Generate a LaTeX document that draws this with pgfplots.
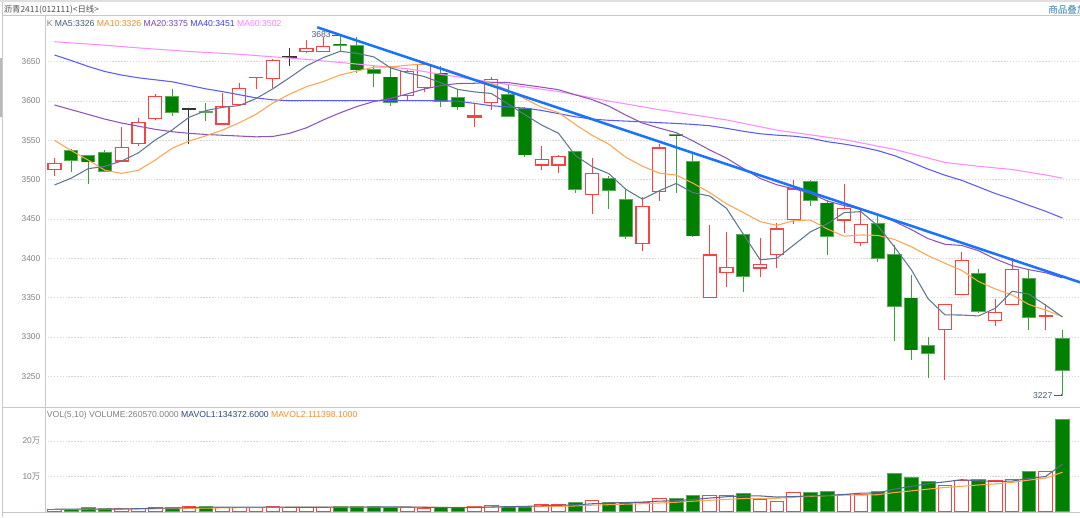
\documentclass[border=0pt]{standalone}
\usepackage{fontspec}
\setmainfont{Liberation Sans}
\newfontfamily\cjk{Noto Sans CJK SC}
\usepackage{pgfplots}
\usepackage{pgfplotstable}
\pgfplotsset{compat=1.18}
\usetikzlibrary{arrows.meta}

\definecolor{upred}{RGB}{255,64,64}
\definecolor{dngreen}{RGB}{0,128,0}
\definecolor{dnedge}{RGB}{90,170,90}
\definecolor{dnwick}{RGB}{60,160,60}
\definecolor{maA}{RGB}{95,120,145}
\definecolor{maB}{RGB}{255,165,80}
\definecolor{maC}{RGB}{140,85,185}
\definecolor{maD}{RGB}{90,90,255}
\definecolor{maE}{RGB}{255,140,255}
\definecolor{trendc}{RGB}{25,115,255}
\definecolor{gridc}{RGB}{215,215,215}
\definecolor{labc}{RGB}{128,128,128}
\definecolor{framec}{RGB}{200,200,200}
\definecolor{txA}{RGB}{60,90,120}
\definecolor{txB}{RGB}{240,140,40}
\definecolor{txC}{RGB}{120,64,180}
\definecolor{txD}{RGB}{60,60,255}
\definecolor{txE}{RGB}{255,128,255}
\definecolor{navy}{RGB}{40,70,120}
\definecolor{annc}{RGB}{76,92,112}
\definecolor{linkc}{RGB}{47,127,175}

\newcommand\tkf{\fontsize{6.3}{7.5}\selectfont}
\newcommand\lgf{\fontsize{6.5}{7.5}\selectfont}

% i open high low close volume
\pgfplotstableread{
i O H L C V
0 3512 3528 3505 3521 5700
1 3538 3539 3510 3524 4700
2 3531 3532 3495 3522 10400
3 3535 3538 3510 3510 7500
4 3523 3567 3523 3542 7500
5 3545 3579 3543 3573 9400
6 3577 3609 3576 3606 12300
7 3606 3615 3581 3585 10400
8 3590 3590 3546 3590 15100
9 3586 3598 3574 3585 13200
10 3570 3610 3570 3594 11300
11 3595 3623 3595 3617 11300
12 3629 3630 3615 3630 11300
13 3628 3653 3617 3652 15100
14 3656 3668 3644 3656 11300
15 3662 3677 3661 3668 11300
16 3662 3681 3662 3670 11300
17 3673 3683 3664 3670 13200
18 3671 3682 3636 3639 14200
19 3641 3645 3618 3634 14200
20 3631 3644 3594 3598 11300
21 3606 3639 3600 3638 11300
22 3616 3649 3612 3647 9400
23 3636 3645 3593 3599 11300
24 3605 3615 3589 3592 11300
25 3579 3597 3567 3582 13200
26 3597 3631 3589 3628 17900
27 3609 3620 3580 3580 15100
28 3591 3592 3529 3531 15100
29 3518 3543 3512 3526 19800
30 3518 3531 3508 3530 19800
31 3536 3537 3483 3487 24500
32 3480 3527 3457 3509 30200
33 3502 3505 3463 3486 26400
34 3475 3489 3425 3427 26400
35 3418 3478 3409 3467 26400
36 3484 3545 3473 3541 37700
37 3558 3558 3483 3555 35800
38 3524 3534 3427 3428 45300
39 3349 3442 3349 3405 45300
40 3381 3433 3364 3389 45300
41 3431 3431 3357 3376 50000
42 3387 3426 3376 3393 34900
43 3404 3445 3388 3438 29200
44 3449 3500 3444 3489 52800
45 3498 3499 3466 3473 53800
46 3471 3474 3404 3427 57500
47 3448 3494 3432 3464 48100
48 3419 3464 3416 3444 48100
49 3445 3455 3395 3399 55700
50 3405 3417 3295 3338 107500
51 3350 3379 3271 3283 97200
52 3290 3300 3248 3279 84900
53 3309 3342 3245 3342 74500
54 3353 3408 3353 3398 86800
55 3381 3387 3330 3332 91500
56 3320 3348 3314 3332 86800
57 3341 3401 3341 3387 91500
58 3375 3387 3309 3324 113200
59 3326 3342 3309 3327 113200
60 3299 3309 3227 3257 260570
}\ohlc

\pgfplotstableread{
i ma5 ma10 ma20 ma40
0 3493.3 3550 3595 3658.5
1 3502 3537 3589 3651.5
2 3514 3525 3583 3644
3 3517 3512 3577 3637.5
4 3523.8 3508 3572 3633
5 3534.2 3512 3568 3629.5
6 3550.6 3525 3564 3627
7 3563.2 3540 3561 3624.5
8 3579.2 3549 3559 3620
9 3587.8 3555.8 3557.5 3615.5
10 3592.0 3563.1 3556.5 3612
11 3594.2 3572.4 3555.5 3608
12 3603.2 3583.2 3554.5 3604
13 3615.6 3597.4 3555 3601.5
14 3629.8 3608.8 3559 3600.5
15 3644.6 3618.3 3566 3600.5
16 3655.2 3624.7 3576 3600.5
17 3663.2 3633.2 3585 3600.5
18 3660.6 3638.1 3593 3600.5
19 3656.2 3643.0 3599.4 3600.5
20 3642.2 3643.4 3603.3 3600.5
21 3635.8 3645.5 3609.0 3600.5
22 3631.2 3647.2 3615.2 3600.5
23 3623.2 3641.9 3619.7 3600.3
24 3614.8 3635.5 3622.2 3599.8
25 3611.6 3626.9 3622.6 3597
26 3609.6 3622.7 3623.7 3594
27 3596.2 3613.7 3623.5 3592.5
28 3582.6 3602.9 3620.5 3591
29 3569.4 3592.1 3617.6 3588
30 3559.0 3585.3 3614.4 3584
31 3530.8 3570.2 3607.9 3580
32 3516.6 3556.4 3601.8 3577
33 3507.6 3545.1 3593.5 3575.5
34 3487.8 3528.6 3582.1 3574.5
35 3475.2 3517.1 3572.0 3573.5
36 3486.0 3508.4 3565.6 3572.5
37 3495.2 3505.9 3559.8 3571.5
38 3483.6 3495.6 3549.3 3570.3
39 3479.2 3483.5 3537.8 3568.6
40 3463.6 3469.4 3527.4 3565.3
41 3430.6 3458.3 3514.3 3561.6
42 3398.2 3446.7 3501.6 3558.4
43 3400.2 3441.9 3493.5 3556.6
44 3417.0 3448.1 3488.4 3555.3
45 3433.8 3448.7 3482.9 3552.8
46 3444.0 3437.3 3472.9 3548.3
47 3458.2 3428.2 3467.1 3545.3
48 3459.4 3429.8 3462.7 3541.6
49 3441.4 3429.2 3456.4 3537.0
50 3414.4 3424.1 3446.8 3530.6
51 3385.6 3414.8 3436.6 3522.2
52 3348.6 3403.4 3425.1 3513.4
53 3328.2 3393.8 3417.9 3505.7
54 3328.0 3384.7 3416.4 3499.2
55 3326.8 3370.6 3409.7 3490.8
56 3336.6 3361.1 3399.2 3482.4
57 3358.2 3353.4 3390.8 3475.3
58 3354.6 3341.4 3385.6 3467.4
59 3340.4 3334.2 3381.7 3459.8
60 3325.4 3326.1 3375.1 3451.2
}\ma

\pgfplotstableread{
i ma60
0 3675.4
3 3671
5 3667.5
8 3663
11 3659.4
15 3653
19 3645
21 3641
23 3634
26 3624
28 3618
30 3612
33 3600
36 3589
40 3576
43 3563
47 3551
50 3538.5
53 3522
55 3517
57 3513
59 3506
60 3502
}\masixty

\pgfplotstableread{
i mv5 mv10
0 6500 6000
1 6500 6200
2 6800 6500
3 7000 6800
4 7160 7000
5 7900 7300
6 9420 7800
7 9420 8300
8 10940 9000
9 12080 9620
10 12460 10180
11 12260 10840
12 12440 10930
13 12440 11690
14 12060 12070
15 12060 12260
16 12060 12160
17 12440 12440
18 12260 12350
19 12840 12450
20 12840 12450
21 12840 12450
22 12080 12260
23 11500 11880
24 10920 11880
25 11300 12070
26 12620 12730
27 13760 12920
28 14520 13010
29 16220 13570
30 17540 14420
31 18860 15740
32 21880 17820
33 24140 19330
34 25460 20840
35 26780 22160
36 29420 24140
37 30540 26210
38 34320 29230
39 38100 31780
40 41880 34330
41 44340 36880
42 44160 37350
43 40940 37630
44 42440 40270
45 44140 43010
46 45640 44990
47 48280 46220
48 52060 46500
49 52640 47540
50 63380 53760
51 71320 58480
52 78680 63480
53 83960 68010
54 90180 71410
55 86980 75180
56 84900 78110
57 86220 82450
58 93960 88960
59 99240 94710
60 134373 111398
}\mavol

\pgfplotsset{
  cdl/.style={forget plot, draw=none, mark=none,
    error bars/y dir=plus, error bars/y explicit, error bars/error mark=none},
  up/.style={restrict expr to domain={\thisrow{C}-\thisrow{O}}{0.5:1000}},
  dn/.style={restrict expr to domain={\thisrow{C}-\thisrow{O}}{-1000:-0.5}},
  flat/.style={restrict expr to domain={\thisrow{C}-\thisrow{O}}{-0.5:0.5}},
  panel/.style={anchor=north west, width=776.25pt, scale only axis,
    xmin=-0.5655, xmax=61.04, axis line style={draw=none}, xtick=\empty,
    major tick length=0pt, ymajorgrids,
    major grid style={gridc, line width=0.6pt, dash pattern=on 1pt off 1.2pt},
    yticklabel style={font=\tkf, text=labc}, clip=true},
}

\begin{document}
\begin{tikzpicture}
\clip (0,0) rectangle (810pt,-387.75pt);
\begin{scope}[x=0.75pt,y=-0.75pt]
  \fill[gray!25] (0,0) rectangle (1080,2.5);
  \draw[framec] (2.5,15) -- (1080,15);
  \draw[framec] (2.5,2.5) -- (2.5,517);
  \fill[gray!55] (0,58) rectangle (2.2,117);
  \draw[framec] (45,15) -- (45,512);
  \draw[framec, line width=1pt] (2.5,407.5) -- (1080,407.5);
  \draw[framec] (2.5,512) -- (1080,512);
  \node[anchor=west, inner sep=0, text=black!70, font=\cjk\fontsize{6.3}{7}\selectfont] at (3.5,9.5) {沥青2411(012111)<日线>};
  \node[anchor=west, inner sep=0, text=linkc, font=\cjk\fontsize{7.2}{8}\selectfont] at (1048,9.5) {商品叠加};
  \node[anchor=west, inner sep=0, font=\lgf] at (46.5,23.5) {\textcolor{labc}{K} \textcolor{txA}{MA5:3326} \textcolor{txB}{MA10:3326} \textcolor{txC}{MA20:3375} \textcolor{txD}{MA40:3451} \textcolor{txE}{MA60:3502}};
  \node[anchor=west, inner sep=0, font=\lgf] at (46.5,415.5) {\textcolor{labc}{VOL(5,10) VOLUME:260570.0000} \textcolor{navy}{MAVOL1:134372.6000} \textcolor{txB}{MAVOL2:111398.1000}};
\end{scope}

\begin{axis}[panel, at={(33.75pt,-11.25pt)}, height=294.375pt,
  ymin=3210.45, ymax=3709.36, ytick={3250,3300,...,3650},
  yticklabels={3250,3300,3350,3400,3450,3500,3550,3600,3650}]
  % up candles: hollow red
  \addplot [up, cdl, error bars/error bar style={draw=upred, line width=0.8pt}]
    table [x=i, y=L, y error plus expr={\thisrow{H}-\thisrow{L}}] {\ohlc};
  \addplot [up, cdl, error bars/error bar style={draw=upred, line width=10.7pt}]
    table [x=i, y=O, y error plus expr={max(\thisrow{C}-\thisrow{O},1.8)}] {\ohlc};
  \addplot [up, cdl, error bars/error bar style={draw=white, line width=8.9pt}]
    table [x=i, y expr={\thisrow{O}+1.5}, y error plus expr={max(\thisrow{C}-\thisrow{O}-3,0)}] {\ohlc};
  % down candles: filled green
  \addplot [dn, cdl, error bars/error bar style={draw=dnwick, line width=0.8pt}]
    table [x=i, y=L, y error plus expr={\thisrow{H}-\thisrow{L}}] {\ohlc};
  \addplot [dn, cdl, error bars/error bar style={draw=dnedge, line width=10.7pt}]
    table [x=i, y=C, y error plus expr={max(\thisrow{O}-\thisrow{C},1.8)}] {\ohlc};
  \addplot [dn, cdl, error bars/error bar style={draw=dngreen, line width=9.2pt}]
    table [x=i, y expr={\thisrow{C}+1.0}, y error plus expr={max(\thisrow{O}-\thisrow{C}-2,0)}] {\ohlc};
  % doji
  \addplot [flat, cdl, error bars/error bar style={draw=black!80, line width=0.8pt}]
    table [x=i, y=L, y error plus expr={\thisrow{H}-\thisrow{L}}] {\ohlc};
  \addplot [flat, forget plot, draw=none, mark=none, error bars/x dir=both, error bars/x fixed=0.43,
    error bars/error mark=none, error bars/error bar style={draw=black!80, line width=0.9pt}]
    table [x=i, y=O] {\ohlc};
  % moving averages
  \addplot [maE, line width=0.8pt, mark=none] table [x=i, y=ma60] {\masixty};
  \addplot [maD, line width=0.8pt, mark=none] table [x=i, y=ma40] {\ma};
  \addplot [maC, line width=0.8pt, mark=none] table [x=i, y=ma20] {\ma};
  \addplot [maB, line width=0.8pt, mark=none] table [x=i, y=ma10] {\ma};
  \addplot [maA, line width=0.8pt, mark=none] table [x=i, y=ma5] {\ma};
  % trend line
  \addplot [trendc, line width=1.9pt, mark=none] coordinates {(15.64,3693.7) (62,3362.7)};
  % labels
  \node[anchor=east, inner sep=0.5pt, text=annc, font=\lgf] at (axis cs:16.5,3684) {3683};
  \draw[annc, line width=0.5pt] (axis cs:16.5,3684) -- (axis cs:16.9,3684);
  \node[anchor=east, inner sep=0.5pt, text=annc, font=\lgf] at (axis cs:59.45,3226.3) {3227};
  \draw[annc, line width=0.5pt, -{Stealth[length=2pt,width=2pt]}] (axis cs:59.5,3226.3) -- (axis cs:60.05,3226.3);
\end{axis}

\begin{axis}[panel, at={(33.75pt,-305.625pt)}, height=78pt,
  ymin=0, ymax=294600, ytick={100000,200000}, scaled y ticks=false,
  yticklabels={10{\cjk 万},20{\cjk 万}}]
  \addplot [ybar, bar width=10.2pt, bar shift=0pt, draw=upred, fill=white, line width=0.8pt,
    restrict expr to domain={\thisrow{C}-\thisrow{O}}{-0.5:1000}] table [x=i, y=V] {\ohlc};
  \addplot [ybar, bar width=10.2pt, bar shift=0pt, draw=dnedge, fill=dngreen, line width=0.6pt,
    restrict expr to domain={\thisrow{C}-\thisrow{O}}{-1000:-0.5}] table [x=i, y=V] {\ohlc};
  \addplot [maB, line width=0.8pt, mark=none] table [x=i, y=mv10] {\mavol};
  \addplot [navy!80, line width=0.8pt, mark=none] table [x=i, y=mv5] {\mavol};
\end{axis}
\end{tikzpicture}
\end{document}
